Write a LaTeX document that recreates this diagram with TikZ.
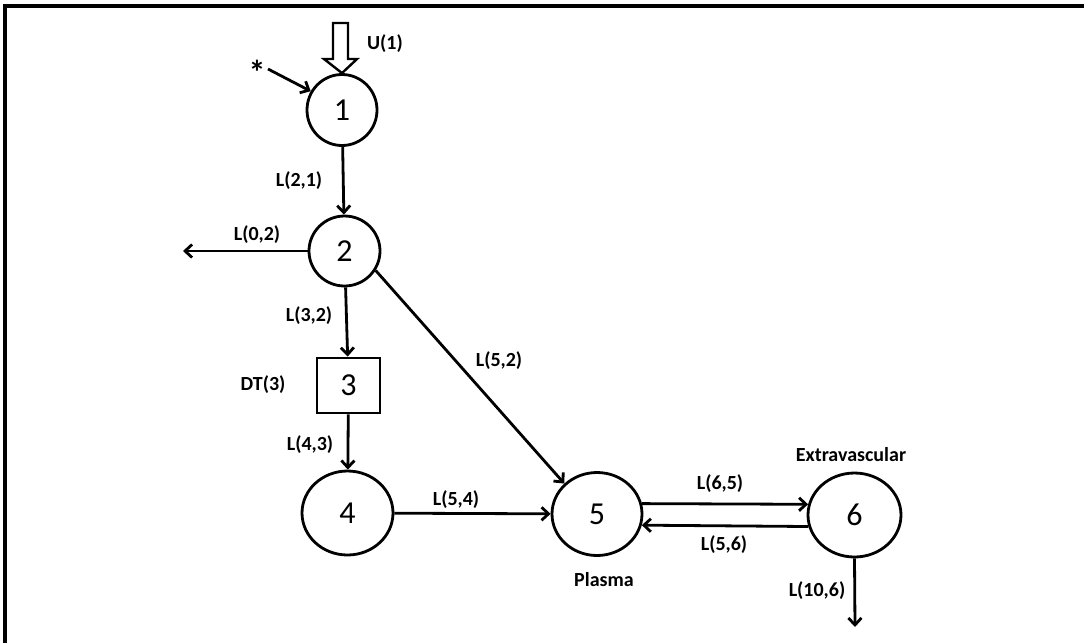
\documentclass[tikz,border=0pt]{standalone}
\usepackage{fontspec}
\setmainfont{Carlito}
\usetikzlibrary{arrows.meta,shapes.geometric}
\begin{document}
\begin{tikzpicture}[x=1pt,y=-1pt,
  comp/.style={draw,ellipse,line width=2.8pt,inner sep=0pt,font=\fontsize{32}{32}\selectfont},
  boxcomp/.style={draw,rectangle,line width=2.8pt,inner sep=0pt,font=\fontsize{32}{32}\selectfont},
  lab/.style={font=\bfseries\fontsize{20}{20}\selectfont,inner sep=0pt},
  flow/.style={line width=2.8pt,-{Straight Barb[length=7pt,width=13pt]}},
  frameline/.style={line width=3.2pt}]
\useasboundingbox (0,0) rectangle (1084,643);
% frame
\coordinate (fa) at (5,643);
\coordinate (fb) at (5,6);
\coordinate (fc) at (1084,6);
\draw[frameline] (fa) -- (fb) -- (fc);
% compartments
\node[comp,minimum width=70pt,minimum height=71pt] (n1) at (342,110) {1};
\node[comp,minimum width=71pt,minimum height=70pt] (n2) at (344.5,251) {2};
\node[boxcomp,minimum width=63pt,minimum height=55pt] (n3) at (348.5,385.5) {3};
\node[comp,minimum width=91pt,minimum height=84pt] (n4) at (347.5,513) {4};
\node[comp,minimum width=90pt,minimum height=83pt] (n5) at (597,514) {5};
\node[comp,minimum width=93pt,minimum height=84pt] (n6) at (854.5,515) {6};
% hollow input arrow
\draw[line width=2.4pt,fill=white,line join=miter] (333,23) -- (333,59) -- (324,59) -- (n1.north) -- (357,59) -- (348,59) -- (348,23) -- cycle;
% star input
\node[font=\bfseries\fontsize{34}{34}\selectfont,anchor=base,inner sep=0pt] (star) at (257,84) {*};
\coordinate (cs) at (268,69);
\draw[flow] (cs) -- (n1.149);
% free ends
\coordinate (c02) at (183,251);
\coordinate (c106) at (855,627);
% connectors
\draw[flow] (n1) -- (n2);
\draw[flow] (n2) -- (n3);
\draw[flow] (n3) -- (n4);
\draw[flow] (n4) -- (n5);
\draw[flow] (n2.-32) -- (n5.137);
\draw[flow] (n5.13) -- (n6.167);
\draw[flow] (n6.194) -- (n5.346);
\draw[flow] (n2.west) -- (c02);
\draw[flow] (n6.south) -- (c106);
% labels
\node[lab] (lu1) at (385,44) {U(1)};
\node[lab] (l21) at (299,181) {L(2,1)};
\node[lab] (l02) at (257,235) {L(0,2)};
\node[lab] (l32) at (309,316) {L(3,2)};
\node[lab] (ldt) at (263,385) {DT(3)};
\node[lab] (l43) at (310,445) {L(4,3)};
\node[lab] (l54) at (456,500) {L(5,4)};
\node[lab] (l52) at (499,361) {L(5,2)};
\node[lab] (l65) at (720,484) {L(6,5)};
\node[lab] (l56) at (724,545) {L(5,6)};
\node[lab] (l106) at (817,591) {L(10,6)};
\node[lab] (lpl) at (604,580) {Plasma};
\node[lab] (lex) at (851,455) {Extravascular};
\end{tikzpicture}
\end{document}
